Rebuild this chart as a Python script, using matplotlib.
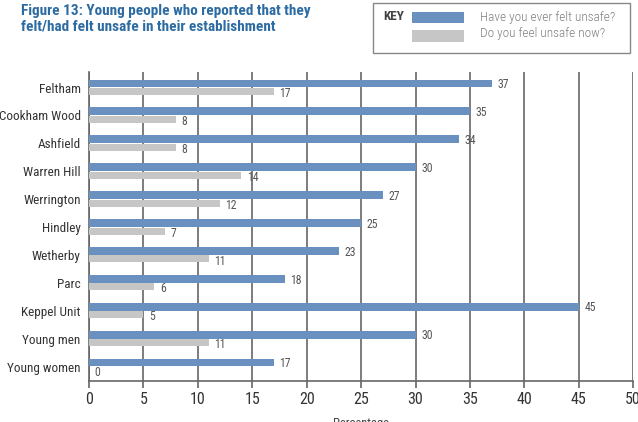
import numpy as np
import matplotlib as mpl
import matplotlib.pyplot as plt
from matplotlib.patches import Rectangle

categories = ['Feltham', 'Cookham Wood', 'Ashfield', 'Warren Hill', 'Werrington',
              'Hindley', 'Wetherby', 'Parc', 'Keppel Unit', 'Young men', 'Young women']
everUnsafe = [37, 35, 34, 30, 27, 25, 23, 18, 45, 30, 17]
unsafeNow = [17, 8, 8, 14, 12, 7, 11, 6, 5, 11, 0]
xTicks = [0, 5, 10, 15, 20, 25, 30, 35, 40, 45, 50]

blue = '#6a90c0'
grey = '#c6c6c6'
lineCol = '#666666'
textCol = '#555555'

mpl.rcParams['font.family'] = ['Roboto Condensed', 'DejaVu Sans']

fig = plt.figure(figsize=(6.38, 4.22), dpi=100)
ax = fig.add_axes([0.1395, 0.097, 0.853, 0.732])

y = np.arange(len(categories))
ax.barh(y - 0.145, everUnsafe, height=0.28, color=blue, zorder=3)
ax.barh(y + 0.145, unsafeNow, height=0.25, color=grey, zorder=3)

for i in range(len(categories)):
    ax.annotate(str(everUnsafe[i]), (everUnsafe[i], y[i] - 0.1), xytext=(4, 0),
                textcoords='offset points', va='center', ha='left', fontsize=8.5, color=textCol)
    ax.annotate(str(unsafeNow[i]), (unsafeNow[i], y[i] + 0.22), xytext=(4, 0),
                textcoords='offset points', va='center', ha='left', fontsize=8.5, color=textCol)

ax.set_xlim(0, 50)
ax.set_ylim(10.52, -0.55)
ax.set_xticks(xTicks)
ax.set_yticks(y)
ax.set_yticklabels(categories, fontsize=9.5, color='#333333')
ax.tick_params(axis='y', length=0, pad=6)
ax.tick_params(axis='x', length=5, width=1.2, color=lineCol, labelsize=11.5, labelcolor='#333333', pad=3)
ax.xaxis.grid(True, color=lineCol, linewidth=1.2, zorder=0)
for s in ['top', 'right']:
    ax.spines[s].set_visible(False)
for s in ['left', 'bottom']:
    ax.spines[s].set_color(lineCol)
    ax.spines[s].set_linewidth(1.2)
ax.set_xlabel('Percentage', fontsize=9, color='#444444', labelpad=7)

fig.text(21 / 638, 1 - 4 / 422, 'Figure 13: Young people who reported that they\nfelt/had felt unsafe in their establishment',
         fontsize=11, fontweight='bold', color='#2d6ca2', va='top', ha='left', linespacing=1.12)

# key box
fig.patches.append(Rectangle((373 / 638, 1 - 53 / 422), 257 / 638, 50 / 422, transform=fig.transFigure,
                             facecolor='white', edgecolor='#888888', linewidth=1))
fig.text(383 / 638, 1 - 17 / 422, 'KEY', fontsize=9.5, fontweight='bold', color='#444444', va='center')
fig.patches.append(Rectangle((412 / 638, 1 - 23 / 422), 52 / 638, 11 / 422, transform=fig.transFigure,
                             facecolor=blue, edgecolor='none'))
fig.patches.append(Rectangle((412 / 638, 1 - 42 / 422), 52 / 638, 12 / 422, transform=fig.transFigure,
                             facecolor=grey, edgecolor='none'))
fig.text(480 / 638, 1 - 17 / 422, 'Have you ever felt unsafe?', fontsize=9.5, fontweight='light',
         color='#808080', va='center')
fig.text(480 / 638, 1 - 34 / 422, 'Do you feel unsafe now?', fontsize=9.5, fontweight='light',
         color='#808080', va='center')

plt.savefig('out.png', dpi=100)
